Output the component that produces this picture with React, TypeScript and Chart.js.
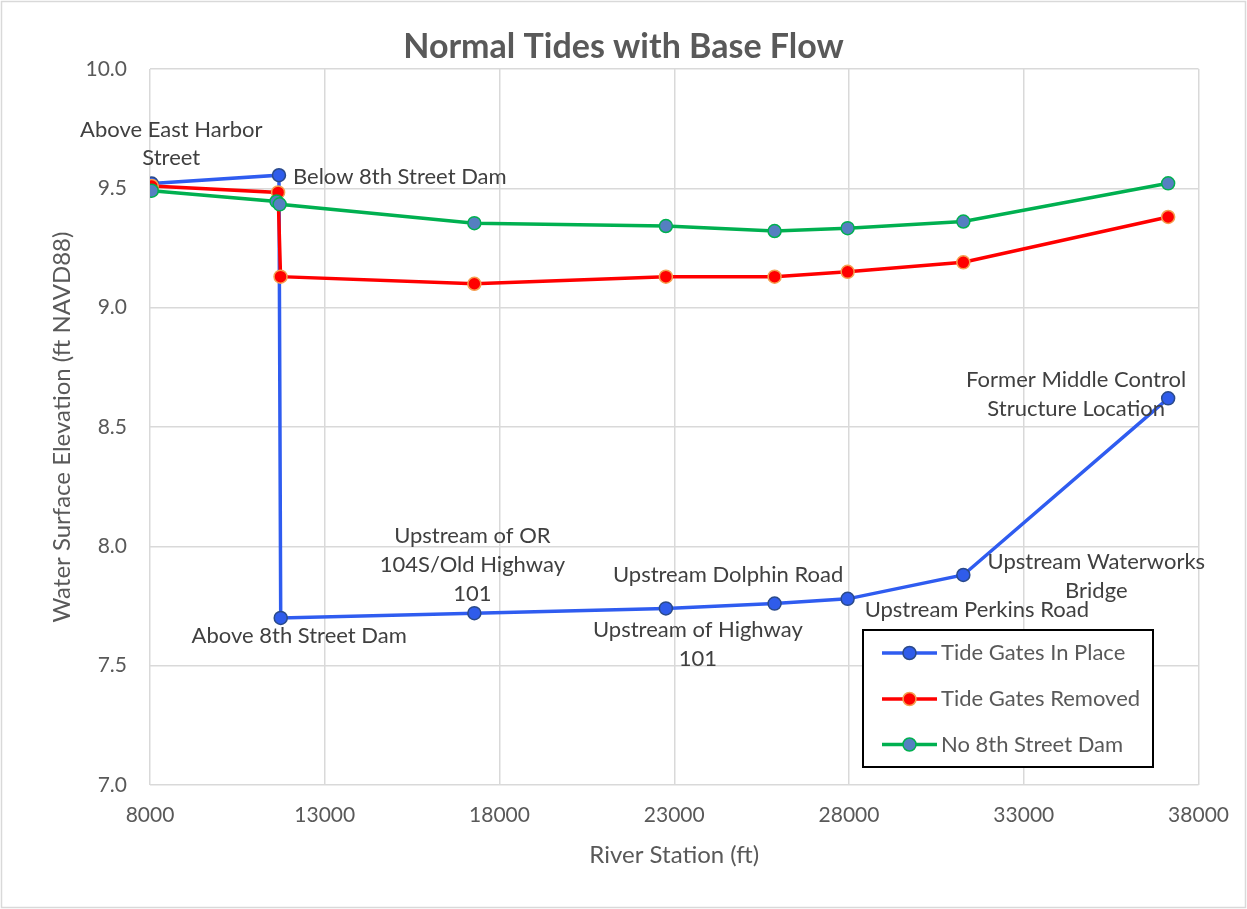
import React, { useEffect, useRef } from "react";
import { Chart, registerables } from "chart.js";

Chart.register(...registerables);

const FONT = "Lato, 'Noto Sans', sans-serif";

const chartTitle = "Normal Tides with Base Flow";
const xAxisTitle = "River Station (ft)";
const yAxisTitle = "Water Surface Elevation (ft NAVD88)";
const seriesNames = ["Tide Gates In Place", "Tide Gates Removed", "No 8th Street Dam"];

const stationsInPlace = [8050, 11690, 11740, 17280, 22760, 25870, 27960, 31270, 37130];
const elevInPlace = [9.52, 9.555, 7.70, 7.72, 7.74, 7.76, 7.78, 7.88, 8.62];

const stationsRemoved = [8050, 11665, 11735, 17280, 22760, 25870, 27960, 31270, 37130];
const elevRemoved = [9.51, 9.483, 9.13, 9.10, 9.13, 9.13, 9.15, 9.19, 9.38];

const stationsNoDam = [8050, 11620, 11710, 17280, 22760, 25870, 27960, 31270, 37130];
const elevNoDam = [9.49, 9.445, 9.433, 9.354, 9.342, 9.321, 9.333, 9.361, 9.521];

const xTicks = [8000, 13000, 18000, 23000, 28000, 33000, 38000];
const yTicks = [7.0, 7.5, 8.0, 8.5, 9.0, 9.5, 10.0];

// Text of the data labels on the "Tide Gates In Place" series (point index, lines)
const labelPointIndex = [0, 1, 2, 3, 4, 5, 6, 7, 8];
const labelTexts = [
  ["Above East Harbor", "Street"],
  ["Below 8th Street Dam"],
  ["Above 8th Street Dam"],
  ["Upstream of OR", "104S/Old Highway", "101"],
  ["Upstream of Highway", "101"],
  ["Upstream Dolphin Road"],
  ["Upstream Perkins Road"],
  ["Upstream Waterworks", "Bridge"],
  ["Former Middle Control", "Structure Location"],
];

// Label placement styles (pixel offsets from the point), kept apart from data
const labelStyles: { dx: number; dy: number; align: CanvasTextAlign }[] = [
  { dx: 19.5, dy: -54, align: "center" },
  { dx: 14, dy: 2, align: "left" },
  { dx: 18.5, dy: 17.5, align: "center" },
  { dx: -2, dy: -77.3, align: "center" },
  { dx: 32, dy: 21.7, align: "center" },
  { dx: -46.5, dy: -28.3, align: "center" },
  { dx: 17, dy: 11.3, align: "left" },
  { dx: 133, dy: -13.3, align: "center" },
  { dx: -92, dy: -18.3, align: "center" },
];

const colors = [
  { line: "#2F5CF0", fill: "#2F5CEB", border: "#2A4A8A" },
  { line: "#FF0000", fill: "#FF0000", border: "#F5A050" },
  { line: "#00B050", fill: "#557FC1", border: "#00B050" },
];

const toPoints = (xs: number[], ys: number[]) => xs.map((x, i) => ({ x, y: ys[i] }));

const framePlugin = {
  id: "frame",
  beforeDraw(chart: any) {
    const ctx = chart.ctx;
    ctx.save();
    ctx.fillStyle = "#FFFFFF";
    ctx.fillRect(0, 0, chart.width, chart.height);
    ctx.strokeStyle = "#D9D9D9";
    ctx.lineWidth = 1.5;
    ctx.strokeRect(1.5, 1.5, chart.width - 3, chart.height - 3);
    ctx.restore();
  },
  afterDraw(chart: any) {
    const ctx = chart.ctx;
    ctx.save();
    ctx.fillStyle = "#595959";
    ctx.font = `bold 34px ${FONT}`;
    ctx.textAlign = "center";
    ctx.textBaseline = "middle";
    ctx.fillText(chartTitle, chart.width / 2, 47);
    ctx.restore();
  },
};

const labelPlugin = {
  id: "pointLabels",
  afterDatasetsDraw(chart: any) {
    const meta = chart.getDatasetMeta(0);
    const ctx = chart.ctx;
    ctx.save();
    ctx.font = `22px ${FONT}`;
    ctx.fillStyle = "#404040";
    ctx.textBaseline = "middle";
    labelTexts.forEach((lines, i) => {
      const st = labelStyles[i];
      const el = meta.data[labelPointIndex[i]];
      if (!el) return;
      ctx.textAlign = st.align;
      lines.forEach((line, k) => {
        ctx.fillText(line, el.x + st.dx, el.y + st.dy + k * 28.8);
      });
    });
    ctx.restore();
  },
};

const legendPlugin = {
  id: "boxLegend",
  afterDraw(chart: any) {
    const ctx = chart.ctx;
    const x0 = 863, y0 = 630, w = 290, h = 137;
    ctx.save();
    ctx.fillStyle = "#FFFFFF";
    ctx.fillRect(x0, y0, w, h);
    ctx.strokeStyle = "#000000";
    ctx.lineWidth = 2;
    ctx.strokeRect(x0, y0, w, h);
    const rows = [653, 699, 744.5];
    seriesNames.forEach((name, i) => {
      const y = rows[i];
      const c = colors[i];
      ctx.strokeStyle = c.line;
      ctx.lineWidth = 3.5;
      ctx.beginPath();
      ctx.moveTo(882, y);
      ctx.lineTo(937, y);
      ctx.stroke();
      ctx.beginPath();
      ctx.arc(909.5, y, 6.5, 0, Math.PI * 2);
      ctx.fillStyle = c.fill;
      ctx.fill();
      ctx.lineWidth = 1.5;
      ctx.strokeStyle = c.border;
      ctx.stroke();
      ctx.fillStyle = "#595959";
      ctx.font = `22px ${FONT}`;
      ctx.textAlign = "left";
      ctx.textBaseline = "middle";
      ctx.fillText(name, 941, y);
    });
    ctx.restore();
  },
};

export default function App() {
  const canvasRef = useRef<HTMLCanvasElement | null>(null);

  useEffect(() => {
    document.body.style.margin = "0";
    const canvas = canvasRef.current;
    if (!canvas) return;
    const datasetDefs = [
      toPoints(stationsInPlace, elevInPlace),
      toPoints(stationsRemoved, elevRemoved),
      toPoints(stationsNoDam, elevNoDam),
    ];
    const chart = new Chart(canvas, {
      type: "line",
      data: {
        datasets: datasetDefs.map((pts, i) => ({
          label: seriesNames[i],
          data: pts,
          borderColor: colors[i].line,
          backgroundColor: colors[i].fill,
          pointBackgroundColor: colors[i].fill,
          pointBorderColor: colors[i].border,
          pointBorderWidth: 1.5,
          pointRadius: 6.5,
          borderWidth: 3.5,
          tension: 0,
          fill: false,
          order: 3 - i,
        })),
      },
      options: {
        responsive: false,
        animation: false,
        devicePixelRatio: 1,
        layout: { padding: { left: 0, right: 45, top: 69, bottom: 0 } },
        plugins: {
          legend: { display: false },
          title: { display: false },
          tooltip: { enabled: false },
        },
        scales: {
          x: {
            type: "linear",
            min: xTicks[0],
            max: xTicks[xTicks.length - 1],
            afterBuildTicks: (scale: any) => {
              scale.ticks = xTicks.map((v) => ({ value: v }));
            },
            afterFit: (scale: any) => {
              scale.height = 124;
            },
            ticks: {
              color: "#595959",
              font: { family: FONT, size: 21 },
              padding: 18,
              callback: (v: any) => String(v),
              maxRotation: 0,
            },
            grid: { color: "#D9D9D9", lineWidth: 1.5, drawTicks: false },
            border: { display: false },
            title: {
              display: true,
              text: xAxisTitle,
              color: "#595959",
              font: { family: FONT, size: 24 },
              padding: { top: 0, bottom: 39.6 },
            },
          },
          y: {
            type: "linear",
            min: yTicks[0],
            max: yTicks[yTicks.length - 1],
            afterBuildTicks: (scale: any) => {
              scale.ticks = yTicks.map((v) => ({ value: v }));
            },
            afterFit: (scale: any) => {
              scale.width = 150;
            },
            ticks: {
              color: "#595959",
              font: { family: FONT, size: 21 },
              padding: 23,
              callback: (v: any) => Number(v).toFixed(1),
            },
            grid: { color: "#D9D9D9", lineWidth: 1.5, drawTicks: false },
            border: { display: false },
            title: {
              display: true,
              text: yAxisTitle,
              color: "#595959",
              font: { family: FONT, size: 24 },
              padding: { top: 47.6, bottom: 0 },
            },
          },
        },
      },
      plugins: [framePlugin, labelPlugin, legendPlugin],
    } as any);
    return () => chart.destroy();
  }, []);

  return (
    <div style={{ width: 1247, height: 909 }}>
      <canvas ref={canvasRef} width={1247} height={909} style={{ display: "block" }} />
    </div>
  );
}
